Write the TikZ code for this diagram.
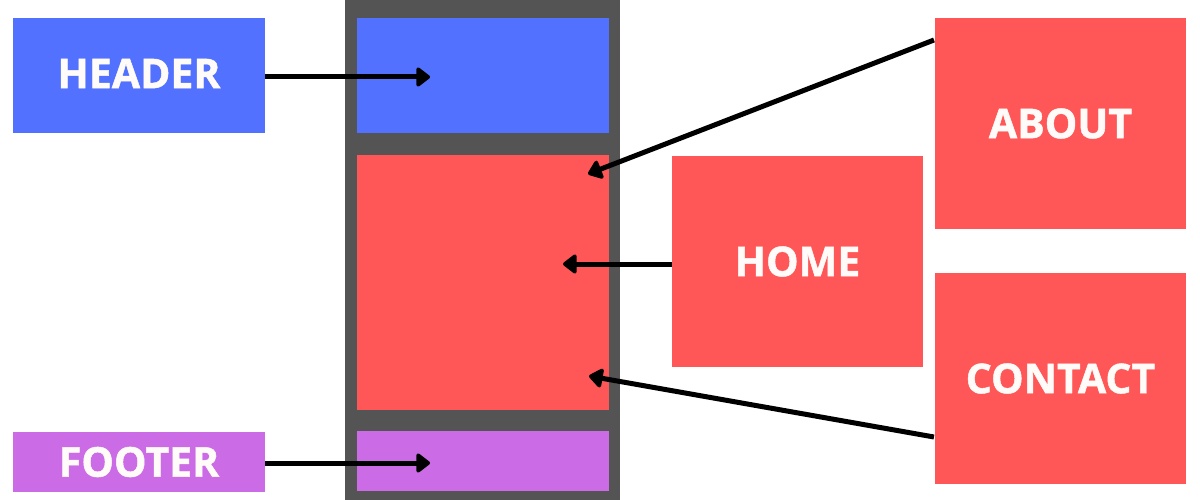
\documentclass[tikz,border=0pt]{standalone}
\usepackage{fontspec}
\setmainfont{Open Sans}[BoldFeatures={FakeBold=1.2}]
\usetikzlibrary{arrows.meta,calc}
\definecolor{cblue}{HTML}{5271FF}
\definecolor{cred}{HTML}{FF5757}
\definecolor{cpurple}{HTML}{CB6CE6}
\definecolor{cdark}{HTML}{545454}
\definecolor{ctext}{HTML}{FFFBF8}
\begin{document}
\begin{tikzpicture}[x=1pt,y=-1pt,
  box/.style={anchor=north west,inner sep=0pt,outer sep=0pt,draw=none,
    font=\fontsize{41}{45}\selectfont\bfseries,text=ctext},
  arr/.style={line width=5pt,-{Triangle[length=15pt,width=22pt,round]},black}]
\useasboundingbox (0,0) rectangle (1200,500);
\fill[white] (0,0) rectangle (1200,500);
% column
\node[box,fill=cdark,minimum width=275pt,minimum height=500pt] (col) at (345,0) {};
\node[box,fill=cblue,minimum width=252pt,minimum height=115pt] (slotH) at (357,18) {};
\node[box,fill=cred,minimum width=252pt,minimum height=255pt] (slotM) at (357,155) {};
\node[box,fill=cpurple,minimum width=252pt,minimum height=60pt] (slotF) at (357,431) {};
% labels
\node[box,fill=cblue,minimum width=252pt,minimum height=115pt] (hdr) at (13,18) {\raisebox{4pt}{HEADER}};
\node[box,fill=cpurple,minimum width=252pt,minimum height=60pt] (ftr) at (13,432) {FOOTER};
\node[box,fill=cred,minimum width=251pt,minimum height=211pt] (home) at (672,156) {HOME};
\node[box,fill=cred,minimum width=251pt,minimum height=211pt] (about) at (935,18) {ABOUT};
\node[box,fill=cred,minimum width=251pt,minimum height=211pt] (contact) at (935,273) {CONTACT};
% arrow ends
\coordinate (tH) at (430,77);
\coordinate (tF) at (430,463);
\coordinate (tHome) at (563,264);
\coordinate (tAbout) at (588,174);
\coordinate (tContact) at (589,376);
\coordinate (sAbout) at ($(about.north west)+(-1,22)$);
\coordinate (sContact) at ($(contact.north west)+(-1,164)$);
\draw[arr] (hdr.east |- tH) -- (tH);
\draw[arr] (ftr.east |- tF) -- (tF);
\draw[arr] (home.west |- tHome) -- (tHome);
\draw[arr] (sAbout) -- (tAbout);
\draw[arr] (sContact) -- (tContact);
\end{tikzpicture}
\end{document}
